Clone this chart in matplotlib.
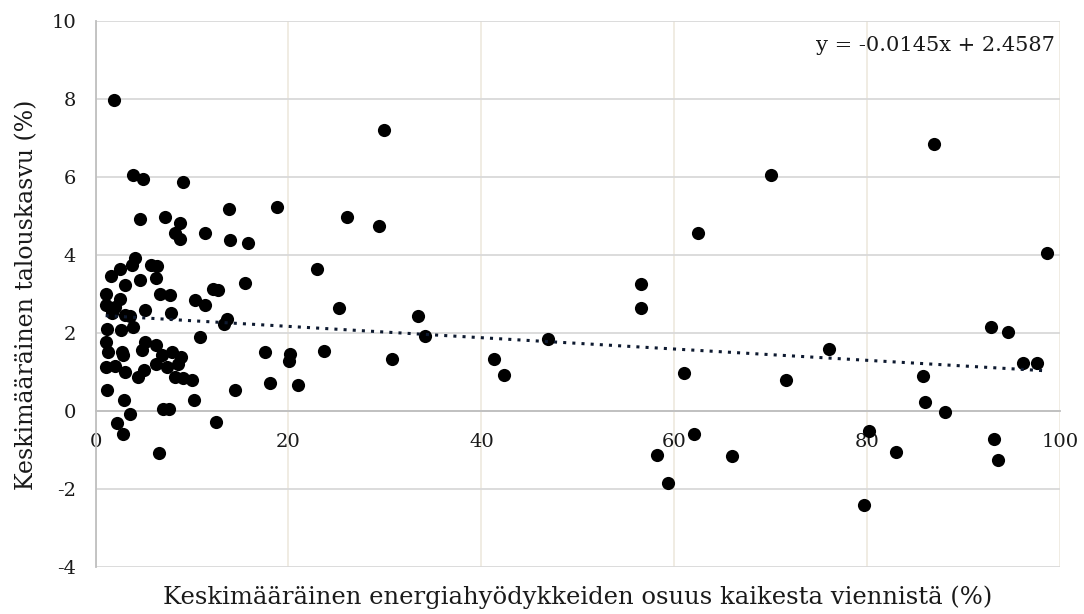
import matplotlib
import matplotlib.pyplot as plt
import numpy as np

matplotlib.use('Agg')

# energiahyödykkeiden osuus viennistä (%)
energy_share = [
    1.9, 3.9, 4.9, 9.1, 4.6, 7.2, 8.8, 8.2, 8.8, 11.3, 13.8, 13.9, 15.8, 18.8,
    4.1, 3.75, 2.5, 1.6, 5.8, 6.4, 6.3, 4.6, 3.1, 15.5,
    1.05, 2.5, 6.7, 7.7, 12.2, 12.7, 10.3, 11.3, 1.05, 2.0, 1.7, 3.1, 3.6, 5.1,
    7.8, 13.6, 13.3, 1.16, 2.6, 3.9, 10.8,
    1.1, 1.3, 2.7, 2.9, 5.1, 4.8, 6.3, 6.9, 7.9, 8.9, 6.3, 7.4, 8.6, 1.1, 2.0,
    3.1, 4.4, 5.0, 8.2, 9.1, 10.0,
    17.6, 18.1, 1.16, 2.95, 10.2, 14.5, 7.0, 7.6, 3.6, 2.2, 2.9, 12.5, 6.6,
    20.2, 20.1, 23.7, 21.0, 23.0, 25.2, 26.1, 29.4, 29.9, 33.4, 34.2, 30.7,
    41.3, 42.3, 46.9,
    62.5, 56.5, 56.5, 61.0, 71.6, 76.0, 70.0, 86.9, 98.6, 92.8, 94.6, 96.2,
    97.6, 85.8, 86.0, 88.1, 62.0, 58.2, 66.0, 59.3, 80.2, 83.0, 93.1, 93.6,
    79.7,
]
# talouskasvu (%)
growth = [
    7.98, 6.05, 5.95, 5.88, 4.92, 4.97, 4.83, 4.55, 4.40, 4.56, 5.17, 4.39, 4.30, 5.22,
    3.92, 3.74, 3.65, 3.46, 3.75, 3.72, 3.42, 3.35, 3.24, 3.28,
    2.99, 2.88, 3.01, 2.98, 3.12, 3.11, 2.84, 2.71, 2.71, 2.67, 2.50, 2.45, 2.43, 2.58,
    2.52, 2.37, 2.24, 2.11, 2.07, 2.15, 1.90,
    1.77, 1.51, 1.51, 1.43, 1.77, 1.56, 1.68, 1.43, 1.51, 1.38, 1.21, 1.13, 1.21, 1.13, 1.15,
    1.00, 0.87, 1.04, 0.87, 0.85, 0.80,
    1.51, 0.72, 0.53, 0.29, 0.29, 0.53, 0.06, 0.06, -0.08, -0.32, -0.58, -0.28, -1.07,
    1.47, 1.27, 1.54, 0.67, 3.63, 2.63, 4.98, 4.74, 7.20, 2.43, 1.92, 1.33,
    1.32, 0.93, 1.84,
    4.56, 3.26, 2.64, 0.97, 0.79, 1.59, 6.04, 6.84, 4.06, 2.16, 2.03, 1.24,
    1.22, 0.90, 0.23, -0.03, -0.58, -1.14, -1.16, -1.85, -0.51, -1.05, -0.72, -1.26,
    -2.42,
]

slope = -0.0145
intercept = 2.4587
x_ticks = [0, 20, 40, 60, 80, 100]
y_ticks = [-4, -2, 0, 2, 4, 6, 8, 10]

plt.rcParams['font.family'] = ['DejaVu Serif']
plt.rcParams['axes.unicode_minus'] = False

fig = plt.figure(figsize=(10.84, 6.14), dpi=100)
ax = fig.add_axes([0.0881, 0.0765, 0.978 - 0.0881, 0.966 - 0.0765])

ax.set_xlim(0, 100)
ax.set_ylim(-4, 10)
ax.set_xticks(x_ticks)
ax.set_yticks(y_ticks)

ax.grid(True, axis='y', color='#d9d9d9', linewidth=1.3, zorder=0)
ax.grid(True, axis='x', color='#efebe1', linewidth=1.3, zorder=0)

for s in ['top', 'right']:
    ax.spines[s].set_visible(False)
ax.spines['bottom'].set_position(('data', 0))
ax.spines['bottom'].set_color('#bfbfbf')
ax.spines['bottom'].set_linewidth(1.3)
ax.spines['left'].set_color('#bfbfbf')
ax.spines['left'].set_linewidth(1.3)

ax.tick_params(axis='both', length=0, labelsize=14, colors='#1a1a1a')
ax.tick_params(axis='x', pad=16)
ax.tick_params(axis='y', pad=14)

ax.scatter(energy_share, growth, s=90, color='black', zorder=3, linewidths=0)

xs = np.array([min(energy_share), max(energy_share)])
ax.plot(xs, slope * xs + intercept, linestyle=(0, (1, 2.0)), color='#0e1a30',
        linewidth=2.2, zorder=4)

ax.text(0.995, 0.955, f'y = {slope}x + {intercept}', transform=ax.transAxes,
        ha='right', va='center', fontsize=15, color='#1a1a1a')

fig.text(0.533, 0.028, 'Keskimääräinen energiahyödykkeiden osuus kaikesta viennistä (%)',
         ha='center', va='center', fontsize=17.5, color='#1a1a1a')
fig.text(0.025, 0.52, 'Keskimääräinen talouskasvu (%)', rotation=90,
         ha='center', va='center', fontsize=17, color='#1a1a1a')

plt.savefig('out.png', dpi=100)
plt.close()
